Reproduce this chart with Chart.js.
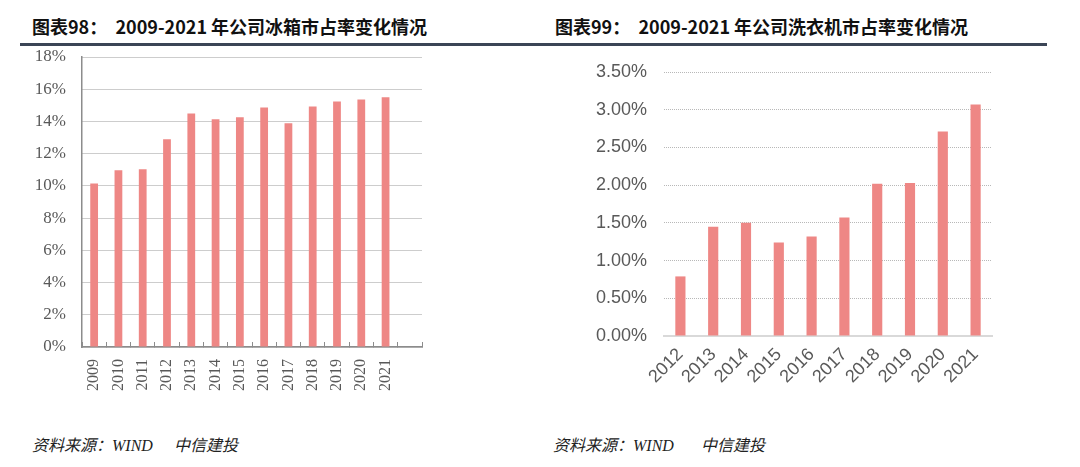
<!DOCTYPE html>
<html>
<head>
<meta charset="utf-8">
<script src="https://cdn.jsdelivr.net/npm/chart.js@4.4.1/dist/chart.umd.min.js"></script>
<style>
  body { margin: 0; background: #fff; width: 1080px; height: 467px; overflow: hidden; position: relative; }
  .title { position: absolute; top: 13px; font: bold 18px "Noto Sans CJK SC", sans-serif; color: #111; white-space: pre; }
  .rule { position: absolute; left: 20px; top: 43px; width: 1027px; height: 3px; background: #3b4556; }
  .src { position: absolute; top: 432px; font: italic 16px "Liberation Serif", "Noto Sans CJK SC", serif; color: #222; white-space: pre; }
  canvas { position: absolute; top: 50px; }
</style>
</head>
<body>
<div class="title" style="left:32px">图表98：  2009-2021 年公司冰箱市占率变化情况</div>
<div class="title" style="left:555px">图表99：  2009-2021 年公司洗衣机市占率变化情况</div>
<div class="rule"></div>

<canvas id="fridgeChart" width="540" height="360" style="left:0"></canvas>
<canvas id="washerChart" width="540" height="360" style="left:540px"></canvas>

<div class="src" style="left:32px">资料来源：WIND<span style="margin-left:21px">中信建投</span></div>
<div class="src" style="left:553px">资料来源：WIND<span style="margin-left:27px">中信建投</span></div>

<script>
// 冰箱市占率 (%)
var fridgeYears = ["2009", "2010", "2011", "2012", "2013", "2014", "2015", "2016", "2017", "2018", "2019", "2020", "2021"];
var fridgeShare = [10.15, 10.97, 11.03, 12.9, 14.49, 14.14, 14.26, 14.86, 13.89, 14.93, 15.24, 15.36, 15.5];
var fridgeTickLabels = ["0%", "2%", "4%", "6%", "8%", "10%", "12%", "14%", "16%", "18%"];

// 洗衣机市占率 (%)
var washerYears = ["2012", "2013", "2014", "2015", "2016", "2017", "2018", "2019", "2020", "2021"];
var washerShare = [0.79, 1.45, 1.50, 1.24, 1.32, 1.57, 2.02, 2.03, 2.71, 3.07];
var washerTickLabels = ["0.00%", "0.50%", "1.00%", "1.50%", "2.00%", "2.50%", "3.00%", "3.50%"];

var barColor = "#ee8785";

// left chart has one empty slot after 2021
var fridgeLabels = fridgeYears.concat([""]);

// keep scale label padding from pushing the plot area around
function noPad(s) {
    s.paddingTop = 0; s.paddingBottom = 0;
    s.paddingLeft = 0; s.paddingRight = 0;
}

var ctx1 = document.getElementById("fridgeChart").getContext("2d");
new Chart(ctx1, {
    type: 'bar',
    data: {
        labels: fridgeLabels,
        datasets: [{
            data: fridgeShare,
            backgroundColor: barColor,
            barPercentage: 0.32,
            categoryPercentage: 1
        }]
    },
    options: {
        responsive: false,
        animation: false,
        layout: { padding: { top: 7, right: 118, bottom: 0, left: 0 } },
        plugins: { legend: { display: false }, tooltip: { enabled: false } },
        scales: {
            x: {
                grid: { drawOnChartArea: false, drawTicks: true, tickLength: -5, color: '#8c8c8c', offset: true },
                border: { color: '#8c8c8c', width: 1.5 },
                ticks: {
                    autoSkip: false, minRotation: 90, maxRotation: 90, padding: 17,
                    color: '#595959', font: { family: 'Liberation Serif', size: 16 }
                },
                afterFit: function (s) { s.height = 63; noPad(s); }
            },
            y: {
                min: 0, max: 18,
                grid: { color: '#9a9a9a', drawTicks: false },
                border: { color: '#8c8c8c', width: 1.5, dash: [1, 1] },
                ticks: {
                    stepSize: 2, padding: 16,
                    color: '#595959', font: { family: 'Liberation Serif', size: 17 },
                    callback: function (v, i) { return fridgeTickLabels[i]; }
                },
                afterFit: function (s) { s.width = 82; noPad(s); }
            }
        }
    }
});

var ctx2 = document.getElementById("washerChart").getContext("2d");
new Chart(ctx2, {
    type: 'bar',
    data: {
        labels: washerYears,
        datasets: [{
            data: washerShare,
            backgroundColor: barColor,
            barPercentage: 0.31,
            categoryPercentage: 1
        }]
    },
    options: {
        responsive: false,
        animation: false,
        layout: { padding: { top: 22, right: 88, bottom: 0, left: 0 } },
        plugins: { legend: { display: false }, tooltip: { enabled: false } },
        scales: {
            x: {
                grid: { drawOnChartArea: false, drawTicks: false },
                border: { color: '#d9d9d9', width: 2 },
                ticks: {
                    autoSkip: false, minRotation: 45, maxRotation: 45, padding: 8,
                    color: '#595959', font: { family: 'Liberation Sans', size: 18 }
                },
                afterFit: function (s) { s.height = 74; noPad(s); }
            },
            y: {
                min: 0, max: 3.5,
                grid: { color: '#b8b8b8', drawTicks: false },
                border: { display: false, dash: [1, 1] },
                ticks: {
                    stepSize: 0.5, padding: 17,
                    color: '#595959', font: { family: 'Liberation Sans', size: 18 },
                    callback: function (v, i) { return washerTickLabels[i]; }
                },
                afterFit: function (s) { s.width = 124; noPad(s); }
            }
        }
    }
});
</script>
</body>
</html>
